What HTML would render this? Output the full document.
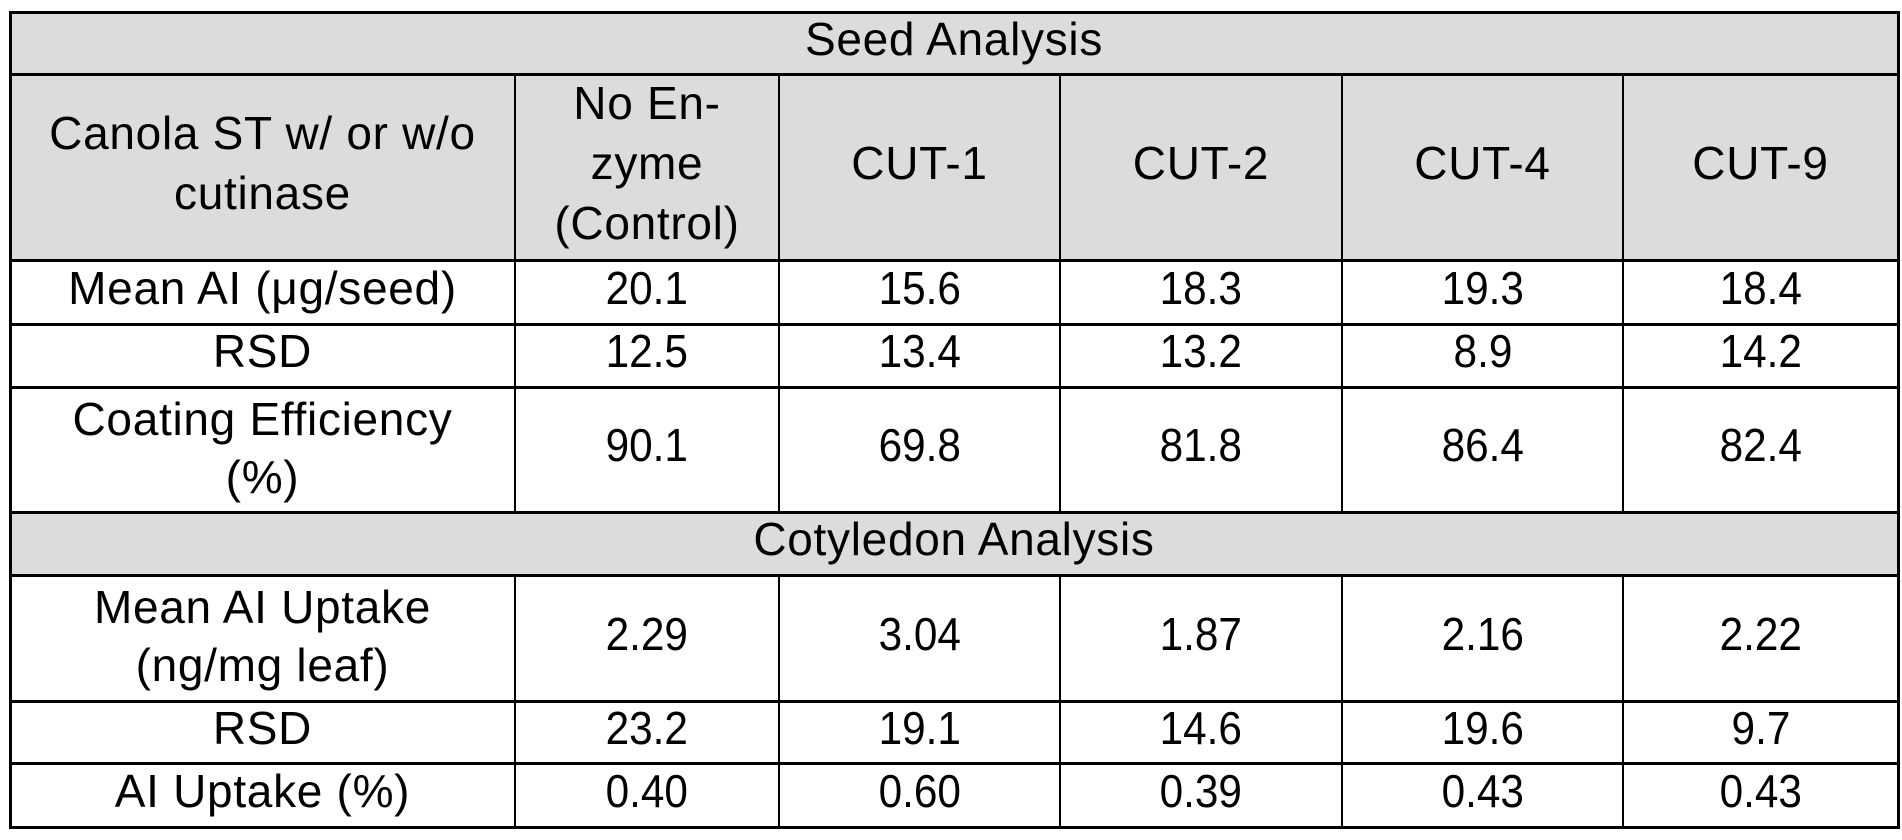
<!DOCTYPE html>
<html>
<head>
<meta charset="utf-8">
<style>
html,body{margin:0;padding:0;background:#fff;}
body{width:1902px;height:840px;position:relative;overflow:hidden;font-family:"Liberation Sans","Noto Sans CJK JP",sans-serif;color:#000;}
.bg{position:absolute;background:#dcdcdc;}
.h{position:absolute;left:9px;width:1891px;height:3px;background:#000;}
.v{position:absolute;width:3px;background:#000;}
.c{position:absolute;display:flex;align-items:center;justify-content:center;text-align:center;font-size:46px;line-height:60px;letter-spacing:0.7px;box-sizing:border-box;padding-bottom:9px;white-space:nowrap;}
.c span{display:inline-block;transform:scaleX(0.92);letter-spacing:0;}
</style>
</head>
<body>
<div class="bg" style="left:10px;top:12px;width:1888px;height:248px;"></div>
<div class="bg" style="left:10px;top:512px;width:1888px;height:63px;"></div>

<div class="h" style="top:11px;"></div>
<div class="h" style="top:73px;"></div>
<div class="h" style="top:259px;"></div>
<div class="h" style="top:323px;"></div>
<div class="h" style="top:386px;"></div>
<div class="h" style="top:511px;"></div>
<div class="h" style="top:574px;"></div>
<div class="h" style="top:700px;"></div>
<div class="h" style="top:762px;"></div>
<div class="h" style="top:826px;"></div>

<div class="v" style="left:9px;top:11px;height:818px;"></div>
<div class="v" style="left:1897px;top:11px;height:818px;"></div>

<div class="v" style="left:514px;top:74px;height:438px;width:2px;"></div>
<div class="v" style="left:778px;top:74px;height:438px;width:2px;"></div>
<div class="v" style="left:1059px;top:74px;height:438px;width:2px;"></div>
<div class="v" style="left:1341px;top:74px;height:438px;width:2px;"></div>
<div class="v" style="left:1622px;top:74px;height:438px;width:2px;"></div>
<div class="v" style="left:514px;top:575px;height:252px;width:2px;"></div>
<div class="v" style="left:778px;top:575px;height:252px;width:2px;"></div>
<div class="v" style="left:1059px;top:575px;height:252px;width:2px;"></div>
<div class="v" style="left:1341px;top:575px;height:252px;width:2px;"></div>
<div class="v" style="left:1622px;top:575px;height:252px;width:2px;"></div>

<div class="c" style="left:10px;top:12px;width:1888px;height:62px;">Seed Analysis</div>

<div class="c" style="left:10px;top:74px;width:505px;height:186px;">Canola ST w/ or w/o<br>cutinase</div>
<div class="c" style="left:515px;top:74px;width:264px;height:186px;">No En-<br>zyme<br>(Control)</div>
<div class="c" style="left:779px;top:74px;width:281px;height:186px;">CUT-1</div>
<div class="c" style="left:1060px;top:74px;width:282px;height:186px;">CUT-2</div>
<div class="c" style="left:1342px;top:74px;width:281px;height:186px;">CUT-4</div>
<div class="c" style="left:1623px;top:74px;width:275px;height:186px;">CUT-9</div>

<div class="c" style="left:10px;top:260px;width:505px;height:64px;">Mean AI (μg/seed)</div>
<div class="c" style="left:515px;top:260px;width:264px;height:64px;"><span>20.1</span></div>
<div class="c" style="left:779px;top:260px;width:281px;height:64px;"><span>15.6</span></div>
<div class="c" style="left:1060px;top:260px;width:282px;height:64px;"><span>18.3</span></div>
<div class="c" style="left:1342px;top:260px;width:281px;height:64px;"><span>19.3</span></div>
<div class="c" style="left:1623px;top:260px;width:275px;height:64px;"><span>18.4</span></div>

<div class="c" style="left:10px;top:324px;width:505px;height:63px;">RSD</div>
<div class="c" style="left:515px;top:324px;width:264px;height:63px;"><span>12.5</span></div>
<div class="c" style="left:779px;top:324px;width:281px;height:63px;"><span>13.4</span></div>
<div class="c" style="left:1060px;top:324px;width:282px;height:63px;"><span>13.2</span></div>
<div class="c" style="left:1342px;top:324px;width:281px;height:63px;"><span>8.9</span></div>
<div class="c" style="left:1623px;top:324px;width:275px;height:63px;"><span>14.2</span></div>

<div class="c" style="left:10px;top:387px;width:505px;height:125px;padding-bottom:4px;line-height:58px;">Coating Efficiency<br>(%)</div>
<div class="c" style="left:515px;top:387px;width:264px;height:125px;"><span>90.1</span></div>
<div class="c" style="left:779px;top:387px;width:281px;height:125px;"><span>69.8</span></div>
<div class="c" style="left:1060px;top:387px;width:282px;height:125px;"><span>81.8</span></div>
<div class="c" style="left:1342px;top:387px;width:281px;height:125px;"><span>86.4</span></div>
<div class="c" style="left:1623px;top:387px;width:275px;height:125px;"><span>82.4</span></div>

<div class="c" style="left:10px;top:512px;width:1888px;height:63px;">Cotyledon Analysis</div>

<div class="c" style="left:10px;top:575px;width:505px;height:126px;padding-bottom:4px;line-height:58px;">Mean AI Uptake<br>(ng/mg leaf)</div>
<div class="c" style="left:515px;top:575px;width:264px;height:126px;"><span>2.29</span></div>
<div class="c" style="left:779px;top:575px;width:281px;height:126px;"><span>3.04</span></div>
<div class="c" style="left:1060px;top:575px;width:282px;height:126px;"><span>1.87</span></div>
<div class="c" style="left:1342px;top:575px;width:281px;height:126px;"><span>2.16</span></div>
<div class="c" style="left:1623px;top:575px;width:275px;height:126px;"><span>2.22</span></div>

<div class="c" style="left:10px;top:701px;width:505px;height:62px;">RSD</div>
<div class="c" style="left:515px;top:701px;width:264px;height:62px;"><span>23.2</span></div>
<div class="c" style="left:779px;top:701px;width:281px;height:62px;"><span>19.1</span></div>
<div class="c" style="left:1060px;top:701px;width:282px;height:62px;"><span>14.6</span></div>
<div class="c" style="left:1342px;top:701px;width:281px;height:62px;"><span>19.6</span></div>
<div class="c" style="left:1623px;top:701px;width:275px;height:62px;"><span>9.7</span></div>

<div class="c" style="left:10px;top:763px;width:505px;height:64px;">AI Uptake (%)</div>
<div class="c" style="left:515px;top:763px;width:264px;height:64px;"><span>0.40</span></div>
<div class="c" style="left:779px;top:763px;width:281px;height:64px;"><span>0.60</span></div>
<div class="c" style="left:1060px;top:763px;width:282px;height:64px;"><span>0.39</span></div>
<div class="c" style="left:1342px;top:763px;width:281px;height:64px;"><span>0.43</span></div>
<div class="c" style="left:1623px;top:763px;width:275px;height:64px;"><span>0.43</span></div>
</body>
</html>
